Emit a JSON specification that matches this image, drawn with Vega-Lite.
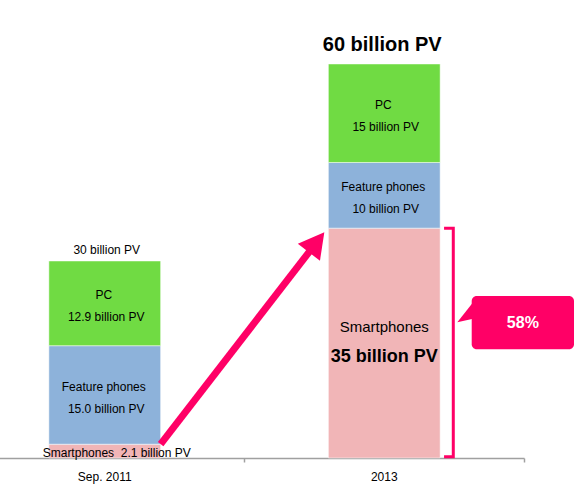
{
  "$schema": "https://vega.github.io/schema/vega-lite/v6.json",
  "width": 582,
  "height": 458,
  "autosize": {"type": "none"},
  "padding": {"left": 0, "top": 0, "right": 0, "bottom": 34},
  "config": {"view": {"stroke": null}, "font": "Liberation Sans", "text": {"font": "Liberation Sans", "color": "#000000"}},
  "datasets": {
    "pv": [
      {"period": "Sep. 2011", "type": "Smartphones", "order": 1, "value": 2.1, "valueLabel": "2.1 billion PV"},
      {"period": "Sep. 2011", "type": "Feature phones", "order": 2, "value": 15.0, "valueLabel": "15.0 billion PV"},
      {"period": "Sep. 2011", "type": "PC", "order": 3, "value": 12.9, "valueLabel": "12.9 billion PV"},
      {"period": "2013", "type": "Smartphones", "order": 1, "value": 35, "valueLabel": "35 billion PV"},
      {"period": "2013", "type": "Feature phones", "order": 2, "value": 10, "valueLabel": "10 billion PV"},
      {"period": "2013", "type": "PC", "order": 3, "value": 15, "valueLabel": "15 billion PV"}
    ],
    "totals": [
      {"period": "Sep. 2011", "total": 30, "label": "30 billion PV"},
      {"period": "2013", "total": 60, "label": "60 billion PV"}
    ],
    "arrow": [{"u": 0.7, "y": 2.1, "u2": 1.258, "y2": 32.85}],
    "arrowHead": [{"u": 1.258, "y": 32.85}],
    "bracket": [
      {"i": 1, "u": 1.714, "y": 35},
      {"i": 2, "u": 1.747, "y": 35},
      {"i": 3, "u": 1.747, "y": 0.2},
      {"i": 4, "u": 1.714, "y": 0.2}
    ],
    "callout": [{"u": 1.8129, "u2": 2.1789, "y": 24.67, "y2": 16.55, "cu": 1.9959, "cy": 20.5, "text": "58%"}],
    "pointer": [{"u": 1.814, "y": 22.54}]
  },
  "layer": [
    {
      "data": {"name": "pv"},
      "encoding": {
        "x": {
          "field": "period",
          "type": "nominal",
          "sort": ["Sep. 2011", "2013"],
          "scale": {"domain": ["Sep. 2011", "2013"], "range": [-35, 524], "paddingInner": 0, "paddingOuter": 0},
          "axis": {
            "title": null,
            "labelAngle": 0,
            "labelFontSize": 12,
            "labelColor": "#000000",
            "labelFont": "Liberation Sans",
            "labelPadding": 9,
            "tickSize": 4,
            "bandPosition": 1,
            "domainColor": "#A0A0A0",
            "tickColor": "#A0A0A0",
            "domainWidth": 1.5,
            "tickWidth": 1.5,
            "grid": false
          }
        }
      },
      "layer": [
        {
          "mark": {"type": "bar", "width": {"band": 0.4}, "stroke": "#ffffff", "strokeWidth": 1, "strokeOpacity": 0.5},
          "encoding": {
            "y": {"field": "value", "type": "quantitative", "stack": "zero", "scale": {"domain": [0, 69.74], "nice": false}, "axis": null},
            "color": {
              "field": "type",
              "type": "nominal",
              "scale": {"domain": ["Smartphones", "Feature phones", "PC"], "range": ["#F1B5B7", "#8DB2DA", "#70DB43"]},
              "legend": null
            },
            "order": {"field": "order", "type": "quantitative"}
          }
        },
        {
          "mark": {"type": "text", "dy": -8, "dx": -1, "fontSize": 12, "baseline": "middle"},
          "encoding": {
            "y": {"field": "value", "type": "quantitative", "stack": "zero", "bandPosition": 0.5},
            "detail": {"field": "type"},
            "order": {"field": "order", "type": "quantitative"},
            "text": {"condition": {"test": "datum.type === 'Smartphones'", "value": ""}, "field": "type"}
          }
        },
        {
          "mark": {"type": "text", "dy": 14, "dx": 1.5, "fontSize": 12, "baseline": "middle"},
          "encoding": {
            "y": {"field": "value", "type": "quantitative", "stack": "zero", "bandPosition": 0.5},
            "detail": {"field": "type"},
            "order": {"field": "order", "type": "quantitative"},
            "text": {"condition": {"test": "datum.type === 'Smartphones'", "value": ""}, "field": "valueLabel"}
          }
        },
        {
          "transform": [{"filter": "datum.period === '2013' && datum.type === 'Smartphones'"}],
          "mark": {"type": "text", "dy": -16, "fontSize": 15, "baseline": "middle"},
          "encoding": {
            "y": {"field": "value", "type": "quantitative", "stack": "zero", "bandPosition": 0.5},
            "text": {"field": "type"}
          }
        },
        {
          "transform": [{"filter": "datum.period === '2013' && datum.type === 'Smartphones'"}],
          "mark": {"type": "text", "dy": 14, "fontSize": 18, "fontWeight": "bold", "baseline": "middle"},
          "encoding": {
            "y": {"field": "value", "type": "quantitative", "stack": "zero", "bandPosition": 0.5},
            "text": {"field": "valueLabel"}
          }
        },
        {
          "transform": [{"filter": "datum.period === 'Sep. 2011' && datum.type === 'Smartphones'"}],
          "mark": {"type": "text", "dy": 2, "dx": 12, "fontSize": 12, "baseline": "middle"},
          "encoding": {
            "y": {"field": "value", "type": "quantitative", "stack": "zero", "bandPosition": 0.5},
            "text": {"value": "Smartphones\u00a0 2.1 billion PV"}
          }
        },
        {
          "data": {"name": "totals"},
          "transform": [{"filter": "datum.period === 'Sep. 2011'"}],
          "mark": {"type": "text", "dy": -7, "dx": 2, "fontSize": 12, "baseline": "alphabetic"},
          "encoding": {
            "y": {"field": "total", "type": "quantitative"},
            "text": {"field": "label"}
          }
        },
        {
          "data": {"name": "totals"},
          "transform": [{"filter": "datum.period === '2013'"}],
          "mark": {"type": "text", "dy": -13, "dx": -2, "fontSize": 20, "fontWeight": "bold", "baseline": "alphabetic"},
          "encoding": {
            "y": {"field": "total", "type": "quantitative"},
            "text": {"field": "label"}
          }
        }
      ]
    },
    {
      "layer": [
        {
          "data": {"name": "arrow"},
          "mark": {"type": "rule", "color": "#FF0066", "strokeWidth": 7, "strokeCap": "butt"},
          "encoding": {
            "x": {"field": "u", "type": "quantitative", "scale": {"domain": [0, 2], "range": [-35, 524], "nice": false, "zero": false}, "axis": null},
            "y": {"field": "y", "type": "quantitative", "scale": {"domain": [0, 69.74], "nice": false}, "axis": null},
            "x2": {"field": "u2"},
            "y2": {"field": "y2"}
          }
        },
        {
          "data": {"name": "arrowHead"},
          "mark": {"type": "point", "shape": "M0,-0.9L1,0.9L-1,0.9Z", "size": 784, "angle": 37.8, "filled": true, "color": "#FF0066", "opacity": 1, "strokeWidth": 0},
          "encoding": {
            "x": {"field": "u", "type": "quantitative"},
            "y": {"field": "y", "type": "quantitative"}
          }
        },
        {
          "data": {"name": "bracket"},
          "mark": {"type": "line", "color": "#FF0066", "strokeWidth": 3, "strokeJoin": "miter"},
          "encoding": {
            "x": {"field": "u", "type": "quantitative"},
            "y": {"field": "y", "type": "quantitative"},
            "order": {"field": "i", "type": "quantitative"}
          }
        },
        {
          "data": {"name": "callout"},
          "mark": {"type": "rect", "color": "#FF0066", "cornerRadius": 5},
          "encoding": {
            "x": {"field": "u", "type": "quantitative"},
            "x2": {"field": "u2"},
            "y": {"field": "y", "type": "quantitative"},
            "y2": {"field": "y2"}
          }
        },
        {
          "data": {"name": "pointer"},
          "mark": {"type": "point", "shape": "M0.3,-0.8L-0.98,0.82L0.3,0.53Z", "size": 900, "filled": true, "color": "#FF0066", "opacity": 1, "strokeWidth": 0},
          "encoding": {
            "x": {"field": "u", "type": "quantitative"},
            "y": {"field": "y", "type": "quantitative"}
          }
        },
        {
          "data": {"name": "callout"},
          "mark": {"type": "text", "color": "#ffffff", "fontSize": 16, "fontWeight": "bold", "baseline": "middle"},
          "encoding": {
            "x": {"field": "cu", "type": "quantitative"},
            "y": {"field": "cy", "type": "quantitative"},
            "text": {"field": "text"}
          }
        }
      ]
    }
  ],
  "resolve": {"scale": {"x": "independent"}}
}
